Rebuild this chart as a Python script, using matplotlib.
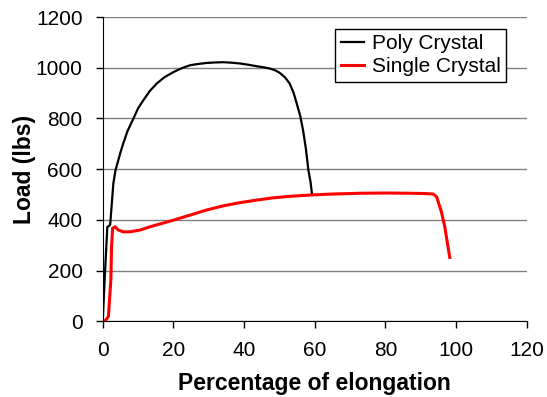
import matplotlib
matplotlib.use('Agg')
import matplotlib.pyplot as plt

plt.rcParams['font.family'] = ['Liberation Sans', 'DejaVu Sans']

# Poly crystal curve (elongation %, load lbs)
poly_x = [0.0, 0.6, 1.3, 2.1, 2.2, 2.6, 3.0, 3.6, 4.4, 5.1, 5.8, 7.0, 8.7, 10.0, 11.5,
          13.3, 15.3, 17.5, 20.0, 22.3, 24.7, 27.0, 29.4, 31.8, 34.1, 36.5, 38.8, 41.2,
          43.6, 45.5, 47.3, 48.8, 50.1, 51.6, 52.9, 54.0, 54.9, 55.9, 56.7, 57.5, 58.2,
          58.8, 59.2]
poly_y = [0, 180, 372, 380, 398, 470, 543, 595, 635, 670, 701, 750, 800, 840, 872,
          908, 938, 963, 983, 998, 1010, 1015, 1019, 1021, 1022, 1020, 1017, 1012,
          1006, 1002, 997, 990, 980, 962, 938, 902, 859, 810, 753, 680, 596,
          550, 505]

# Single crystal curve
single_x = [0.5, 1.6, 2.3, 2.5, 2.8, 3.5, 4.4, 5.8, 7.7, 10.6, 13.4, 16.5, 20.0, 25.0,
            29.4, 34.0, 38.8, 44.0, 48.3, 53.0, 58.6, 65.0, 72.8, 80.0, 86.9, 91.0,
            93.5, 94.5, 95.9, 96.8, 98.2]
single_y = [0, 18, 163, 294, 367, 373, 360, 353, 353, 360, 373, 385, 399, 420,
            439, 455, 468, 479, 487, 493, 498, 502, 505, 506, 505, 504,
            502, 491, 429, 373, 252]

fig = plt.figure(figsize=(5.47, 3.97), dpi=100)
ax = fig.add_axes([0.1878, 0.1907, 0.963 - 0.1878, 0.957 - 0.1907])

ax.plot(poly_x, poly_y, color='black', lw=1.6, label='Poly Crystal')
ax.plot(single_x, single_y, color='#ff0000', lw=2.2, label='Single Crystal')

ax.set_xlim(0, 120)
ax.set_ylim(0, 1200)
ax.set_xticks(range(0, 121, 20))
ax.set_yticks(range(0, 1201, 200))
ax.yaxis.grid(True, color='#808080', lw=1)
ax.set_axisbelow(True)
for s in ['top', 'right']:
    ax.spines[s].set_visible(False)
ax.spines['left'].set_color('black')
ax.spines['bottom'].set_color('black')
ax.tick_params(labelsize=15, length=5, width=1, direction='out', pad=9.5)

ax.set_xlabel('Percentage of elongation', fontsize=16.5, fontweight='bold', labelpad=8)
ax.set_ylabel('Load (lbs)', fontsize=16.5, fontweight='bold', labelpad=0)

leg = ax.legend(loc='upper right', bbox_to_anchor=(0.951, 0.961), fontsize=15,
                frameon=True, fancybox=False, edgecolor='black', framealpha=1,
                handlelength=1.1, handletextpad=0.4, borderpad=0.25, labelspacing=0.2,
                borderaxespad=0)
leg.get_frame().set_linewidth(1)

fig.savefig('out.png', dpi=100)
